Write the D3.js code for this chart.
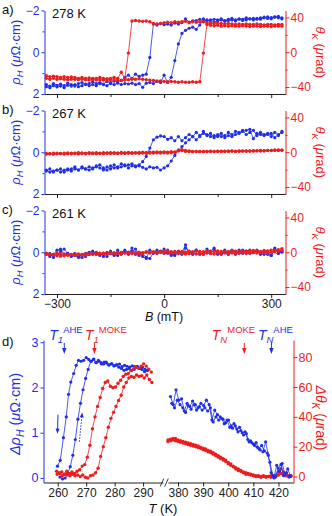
<!DOCTYPE html>
<html lang="en">
<head>
<meta charset="UTF-8">
<title>AHE and MOKE hysteresis</title>
<script src="https://d3js.org/d3.v7.min.js"></script>
<style>
  body { margin: 0; background: #fff; }
  svg { display: block; font-family: "Liberation Sans", Arial, sans-serif; }
</style>
</head>
<body>
<div id="chart"></div>
<script>
// ---------- data: field sweeps (panels a-c), B in mT ----------
const fieldB = [
  -330, -320, -310, -300, -290, -280, -270, -260, -250, -240,
  -230, -220, -210, -200, -190, -180, -170, -160, -150, -140,
  -130, -120, -110, -100, -90, -80, -70, -60, -50, -40,
  -30, -20, -10, 0, 10, 20, 30, 40, 50, 60,
  70, 80, 90, 100, 110, 120, 130, 140, 150, 160,
  170, 180, 190, 200, 210, 220, 230, 240, 250, 260,
  270, 280, 290, 300, 310, 320, 330
];

// a) 278 K : rho_H (uOhm cm) and theta_K (urad)
const aBlueDown = [
  1.55, 1.62, 1.5, 1.58, 1.52, 1.6, 1.48, 1.55, 1.62, 1.5,
  1.45, 1.55, 1.5, 1.42, 1.5, 1.45, 1.52, 1.4, 1.45, 1.38,
  1.42, 1.35, 1.2, 1.1, 1.25, 1.05, 1.15, 1.1, 1.05, 0.25,
  -1.35, -1.3, -1.38, -1.32, -1.35, -1.3, -1.4, -1.35, -1.42, -1.6,
  -1.45, -1.5, -1.52, -1.58, -1.5, -1.55, -1.52, -1.58, -1.55, -1.6,
  -1.52, -1.58, -1.62, -1.55, -1.6, -1.58, -1.65, -1.6, -1.62, -1.58,
  -1.65, -1.68, -1.62, -1.66, -1.7, -1.65, -1.6
];
const aBlueUp = [
  1.65, 1.7, 1.6, 1.66, 1.62, 1.7, 1.58, 1.62, 1.55, 1.65,
  1.6, 1.52, 1.6, 1.55, 1.6, 1.5, 1.55, 1.6, 1.5, 1.55,
  1.48, 1.55, 1.5, 1.52, 1.48, 1.55, 1.5, 1.68, 1.48, 1.45,
  1.5, 1.4, 1.45, 1.1, 1.45, 1.2, 0.4, -0.4, -0.9, -1.05,
  -1.15, -1.2, -1.1, -1.3, -1.6, -1.5, -1.55, -1.45, -1.5, -1.55,
  -1.48, -1.52, -1.55, -1.5, -1.58, -1.52, -1.55, -1.6, -1.55, -1.62,
  -1.58, -1.65, -1.7, -1.6, -1.68, -1.72, -1.65
];
const aRedDown = [
  -27, -28, -27.5, -28, -29, -28, -29, -28.5, -29, -30,
  -29, -30, -29.5, -30, -30, -29, -30, -30.5, -30, -29,
  -30, -23, -30, -1, 36, 36.5, 36, 35.5, 36, 35,
  33, 32.5, 33, 34, 34.5, 34, 35, 34.5, 35, 35.5,
  34, 35, 34.5, 35, 35, 34, 33.5, 33, 33.5, 33,
  32.5, 33, 32.5, 32, 32.5, 32, 32.5, 32, 32, 32.5,
  32, 31.5, 32, 32, 31.5, 32, 32
];
const aRedUp = [
  -30, -31, -30, -31, -30.5, -31, -31.5, -31, -31, -31.5,
  -31, -31.5, -32, -31.5, -32, -31.5, -32, -32, -31.5, -32,
  -32, -32.5, -32, -31.5, -31, -31, -30.5, -31, -31.5, -32,
  -32.5, -33, -33, -33.5, -34, -33.5, -34, -34.5, -34, -34.5,
  -34.5, -34, -34.5, -34, -1, 32, 31, 30.5, 31, 30,
  30.5, 30, 30.5, 30, 30, 30.5, 30, 29.5, 30, 30,
  29.5, 30, 30, 29.5, 30, 30, 30
];

// b) 267 K
const bBlueDown = [
  0.85, 0.95, 0.9, 0.85, 0.95, 0.85, 0.8, 0.9, 0.8, 0.85,
  0.7, 0.8, 0.85, 0.75, 0.7, 0.6, 0.75, 0.85, 0.65, 0.75,
  0.7, 0.55, 0.65, 0.6, 0.55, 0.65, 0.6, 0.45, 0.2, -0.2,
  -0.6, -0.72, -0.78, -0.75, -0.62, -0.7, -0.55, -0.75, -0.55, -0.7,
  -0.85, -0.75, -0.95, -0.8, -0.9, -0.85, -0.75, -0.8, -0.75, -0.9,
  -0.7, -0.8, -0.75, -0.85, -0.9, -1.0, -1.05, -1.1, -0.65, -0.9,
  -0.85, -0.8, -0.85, -0.9, -0.7, -0.85, -0.95
];
const bBlueUp = [
  0.9, 0.8, 0.95, 0.85, 0.8, 0.95, 0.85, 0.8, 0.7, 0.85,
  0.75, 0.8, 0.7, 0.8, 0.65, 0.75, 0.85, 0.7, 0.8, 0.6,
  0.75, 0.7, 0.6, 0.75, 0.65, 0.7, 0.65, 0.72, 0.8, 0.7,
  0.75, 0.72, 0.85, 0.75, 0.65, 0.42, 0.15, -0.1, -0.27, -0.45,
  -0.6, -0.75, -0.6, -0.75, -1.0, -0.8, -0.9, -0.7, -0.85, -0.75,
  -0.8, -0.95, -0.85, -1.0, -0.95, -1.05, -0.85, -0.95, -1.05, -0.8,
  -0.95, -0.85, -0.9, -0.75, -0.95, -0.8, -1.0
];
const bRedDown = [
  -1.5, -1.8, -1.2, -1.0, -1.5, -1.2, -0.8, -1.0, -1.2, -0.6,
  -0.8, -1.0, -0.5, -0.8, -0.6, -1.0, -0.5, -0.8, -0.4, -0.6,
  -0.8, -0.3, -0.6, -0.2, -0.4, -0.5, -0.2, 0.0, -0.3, 0.2,
  0.0, 0.3, 0.1, 0.4, 0.2, 0.5, 0.4, 2.5, 2.0, 1.0,
  0.8, 0.6, 0.9, 0.7, 1.0, 0.8, 1.0, 0.9, 1.2, 1.0,
  1.3, 1.1, 1.4, 1.2, 1.5, 1.3, 1.6, 1.5, 1.8, 1.6,
  2.0, 1.8, 2.2, 2.0, 2.3, 2.1, 2.3
];
const bRedUp = [
  -2.0, -1.6, -2.2, -1.8, -1.5, -2.0, -1.6, -1.8, -1.4, -1.9,
  -1.5, -1.7, -1.3, -1.6, -1.8, -1.4, -1.6, -1.2, -1.5, -1.3,
  -1.6, -1.2, -1.4, -1.1, -1.3, -1.0, -1.2, -0.9, -1.1, -0.8,
  -1.0, -0.7, -0.9, -0.6, -0.8, -0.5, -0.2, 1.5, 2.8, 2.2,
  1.5, 1.0, 0.8, 1.0, 0.7, 0.9, 1.1, 0.8, 1.0, 1.2,
  0.9, 1.1, 1.3, 1.0, 1.2, 1.4, 1.1, 1.3, 1.5, 1.7,
  1.5, 1.8, 1.9, 2.1, 2.4, 2.6, 2.5
];

// c) 261 K
const cBlueDown = [
  0.1, 0.05, 0.25, 0.12, -0.05, -0.15, 0.05, 0.15, 0.05, 0.2,
  0.25, 0.2, 0.1, 0.05, 0.0, 0.05, 0.2, 0.0, 0.05, 0.15,
  -0.1, 0.1, -0.05, 0.1, -0.05, -0.15, 0.05, 0.2, 0.3, -0.1,
  0.0, 0.05, -0.05, 0.05, -0.1, 0.05, 0.15, 0.0, 0.1, -0.2,
  -0.05, 0.05, -0.1, 0.1, 0.0, -0.05, 0.05, -0.15, 0.05, 0.1,
  0.0, 0.05, -0.05, 0.1, -0.1, 0.05, -0.05, 0.05, 0.0, -0.05,
  0.1, -0.05, 0.1, 0.15, -0.15, 0.05, 0.0
];
const cBlueUp = [
  0.05, 0.2, 0.1, -0.1, -0.15, 0.1, 0.05, 0.2, 0.15, 0.25,
  0.1, 0.05, 0.0, -0.05, 0.1, 0.15, 0.05, 0.2, -0.05, 0.1,
  0.15, 0.0, -0.1, 0.05, -0.2, 0.1, 0.15, 0.05, 0.25, 0.3,
  0.05, -0.1, 0.0, -0.15, 0.05, 0.15, 0.1, -0.05, 0.0, -0.35,
  0.05, 0.1, -0.1, 0.05, 0.1, -0.15, -0.05, -0.2, 0.1, 0.0,
  -0.1, 0.1, -0.1, -0.05, 0.05, -0.1, -0.05, -0.1, 0.0, -0.1,
  0.05, 0.1, -0.05, 0.15, -0.2, 0.05, -0.05
];
const cRedDown = [
  -2.5, -3, -2.5, -4, -1.5, -4, -3, -2.5, -2, -3,
  -2.5, -2, -2.5, -1.5, -2, -1, -1.5, -1, -1.5, -0.5,
  -1, -0.5, -1, 0, -1.5, -0.5, 0, -0.5, 0.5, 0,
  0.5, 0, 1, 0.5, 1, 0.5, 1, 0.5, 1, 0,
  1, 0.5, 1.5, 1, 0.5, 1.5, 1, 0.5, 1.5, 1,
  0.5, 1, 1.5, 1, 0.5, 1.5, 1, 1.5, 2, 1.5,
  1, 2, 1.5, 2.5, 2, 3, 4
];
const cRedUp = [
  -1.5, -2, -3, -1, -4.5, -2, -3.5, -3, -3.5, -2,
  -3, -3.5, -2, -2.5, -1.5, -2, -1, -2, -0.5, -1.5,
  -1, -1.5, -0.5, -1, -0.5, -1, -2, -1, 0, -1,
  -0.5, -1, 0, -0.5, 0, -1, -0.5, -1.5, -1, -2,
  -1.5, -1, -2, -1.5, -2, -1, -1.5, -2, -1, -1.5,
  -1, -2, -1, -1.5, -1, -0.5, -1.5, -1, -0.5, -1,
  -0.5, 0, -0.5, 0, 0.5, 1, 2
];

const panelTemps = ["278 K", "267 K", "261 K"];
const panelLetters = ["a)", "b)", "c)", "d)"];

// ---------- data: temperature sweeps (panel d) ----------
const dBlueCoolT = [259.9, 260.9, 262.0, 263.0, 263.8, 264.6, 265.6, 266.5, 267.3, 268.2,
  269.1, 270.0, 270.9, 271.8, 272.7, 273.6, 274.5, 275.4, 276.3, 277.2,
  278.1, 279.0, 279.9, 280.8, 281.7, 282.6, 283.5, 284.4, 285.3, 286.2,
  287.1, 288.0, 288.9, 289.8, 290.7, 291.6];
const dBlueCoolV = [0.26, 0.39, 0.89, 1.35, 1.85, 2.12, 2.31, 2.49, 2.6, 2.58,
  2.6, 2.66, 2.62, 2.58, 2.63, 2.55, 2.58, 2.52, 2.56, 2.54,
  2.5, 2.53, 2.48, 2.5, 2.52, 2.46, 2.49, 2.47, 2.45, 2.48,
  2.46, 2.47, 2.43, 2.45, 2.4, 2.38];
const dBlueWarmT = [260.8, 261.7, 262.6, 263.5, 264.4, 265.3, 266.2, 267.1, 268.0, 268.9,
  269.8, 270.7, 271.6, 272.5, 273.4, 274.3, 275.2, 276.1, 277.0, 277.9,
  278.8, 279.7, 280.6, 281.5, 282.4, 283.3, 284.2, 285.1, 286.0, 286.9,
  287.8, 288.7, 289.6, 290.5, 291.4];
const dBlueWarmV = [0.02, -0.02, 0.0, 0.1, 0.25, 0.5, 0.85, 1.3, 1.65, 1.95,
  2.2, 2.4, 2.58, 2.62, 2.55, 2.6, 2.55, 2.52, 2.56, 2.5,
  2.52, 2.48, 2.5, 2.45, 2.42, 2.38, 2.4, 2.42, 2.38, 2.4,
  2.45, 2.42, 2.4, 2.35, 2.38];
const dRedCoolT = [259.6, 260.5, 261.4, 262.3, 263.2, 264.1, 265.0, 265.9, 266.8, 267.7,
  268.6, 269.5, 270.4, 271.3, 272.2, 273.1, 274.0, 274.9, 275.8, 276.7,
  277.6, 278.5, 279.4, 280.3, 281.2, 282.1, 283.0, 283.9, 284.8, 285.7,
  286.6, 287.5, 288.4, 289.3, 290.2, 291.1, 292.0, 292.9];
const dRedCoolV = [3.5, 2.5, 3, 1.5, 3.5, 2, 3, 2, 3.5, 4.5,
  7, 8, 13, 21, 32, 40, 47, 53, 59, 63,
  64, 60.5, 59.5, 60, 62.5, 64.5, 67, 68.5, 69, 71,
  72, 73.5, 72.5, 74, 75.5, 74, 72, 70];
const dRedWarmT = [259.8, 260.7, 261.6, 262.5, 263.4, 264.3, 265.2, 266.1, 267.0, 267.9,
  268.8, 269.7, 270.6, 271.5, 272.4, 273.3, 274.2, 275.1, 276.0, 276.9,
  277.8, 278.7, 279.6, 280.5, 281.4, 282.3, 283.2, 284.1, 285.0, 285.9,
  286.8, 287.7, 288.6, 289.5, 290.4, 291.3, 292.2, 293.1];
const dRedWarmV = [1.5, 2, 0.5, 1.5, 1, 0.5, 1.5, 0.5, 1, 0,
  1, -0.5, -1, 0.5, 1, 2.5, 5.5, 13.5, 20, 26,
  33, 39, 43, 47, 51, 54.5, 60, 63, 66, 67,
  66.5, 68, 67, 67.5, 66, 68, 65, 63];

// high-temperature side
const dRedHotT = [376, 377, 378, 379, 380, 381, 382, 383, 384, 385,
  386, 387, 388, 389, 390, 391, 392, 393, 394, 395,
  396, 397, 398, 399, 400, 401, 402, 403, 404, 405,
  406, 407, 408, 409, 410, 411, 412, 413, 414, 415,
  416, 417, 418, 419, 420, 421, 422, 423, 424, 425];
const dRedHotA = [24.5, 25, 25.5, 25.5, 24.5, 24, 23.5, 23, 22.5, 22,
  21.5, 21, 20.5, 19.5, 19, 18.5, 17.5, 17, 16, 15,
  14, 13, 12, 11, 9.5, 8.5, 7, 6, 5, 4,
  3, 2.5, 2, 1.5, 1, 0.5, 0.5, 0, 0.5, 0,
  0, 0.5, 0, 1, 3, 2, 1, 0.5, 0, 0.5];
const dRedHotB = [23.5, 24, 24.5, 24, 23.5, 23, 22.5, 22, 21.5, 21,
  20.5, 20, 19.5, 19, 18, 17.5, 16.5, 16, 15, 14,
  13, 12, 11, 10, 8.5, 7.5, 6.5, 5, 4, 3.5,
  2.5, 1.5, 1.5, 1, 0.5, 0, 0, -0.5, 0, -0.5,
  0, -0.5, 0.5, 0, 1, 5, 3, 1.5, 0.5, 0];
const dBlueHotAT = [377.0, 378.1, 379.2, 380.3, 381.4, 382.5, 383.6, 384.7, 385.8, 386.9,
  388.0, 389.1, 390.2, 391.3, 392.4, 393.5, 394.6, 395.7, 396.8, 397.9,
  399.0, 400.1, 401.2, 402.3, 403.4, 404.5, 405.6, 406.7, 407.8, 408.9,
  410.0, 411.1, 412.2, 413.3, 414.4, 415.5, 416.6, 417.7, 418.8, 419.9,
  421.0, 422.1, 423.2, 424.3];
const dBlueHotAV = [1.8, 1.62, 1.95, 1.72, 1.75, 1.48, 1.65, 1.58, 1.7, 1.62,
  1.55, 1.65, 1.6, 1.72, 1.62, 1.28, 1.5, 1.4, 1.35, 1.3,
  1.22, 1.28, 1.15, 1.2, 1.08, 1.12, 1.0, 1.02, 0.85, 0.82,
  0.75, 0.78, 0.65, 0.72, 0.6, 0.55, 0.35, 0.05, 0.02, 0.22,
  0.3, 0.05, 0.12, 0.02];
const dBlueHotBT = [377.5, 378.6, 379.7, 380.8, 381.9, 383.0, 384.1, 385.2, 386.3, 387.4,
  388.5, 389.6, 390.7, 391.8, 392.9, 394.0, 395.1, 396.2, 397.3, 398.4,
  399.5, 400.6, 401.7, 402.8, 403.9, 405.0, 406.1, 407.2, 408.3, 409.4,
  410.5, 411.6, 412.7, 413.8, 414.9, 416.0, 417.1, 418.2, 419.3, 420.4,
  421.5, 422.6, 423.7, 424.8];
const dBlueHotBV = [1.65, 1.55, 1.72, 1.62, 1.55, 1.45, 1.6, 1.52, 1.62, 1.5,
  1.58, 1.5, 1.55, 1.48, 1.55, 1.24, 1.35, 1.28, 1.32, 1.2,
  1.28, 1.12, 1.1, 1.15, 1.02, 1.05, 0.95, 0.98, 0.8, 0.78,
  0.72, 0.68, 0.62, 0.58, 0.8, 0.5, 0.12, 0.0, 0.28, 0.15,
  0.32, 0.08, 0.2, 0.05];

// transition temperatures marked by arrows
const transT = [262.3, 272.9, 406.4, 417.2];
const transSub = ["1", "1", "N", "N"];
const transSup = ["AHE", "MOKE", "MOKE", "AHE"];
const transIsAHE = [true, false, false, true];

// ---------- drawing ----------
const blue = "#1f2fe8", red = "#ee1c1c";
const fontFam = "'Liberation Sans', Arial, sans-serif";
const intFmt = d3.format("d");

const svg = d3.select("#chart").append("svg")
  .attr("width", 332).attr("height", 516);

function styleAxis(sel, color, size) {
  sel.attr("color", color).attr("font-size", size).attr("font-family", fontFam);
  sel.selectAll("path, line").attr("stroke-width", 1);
}

function drawSeries(g, x, y, xs, vs, color, r) {
  const pts = xs.map((v, i) => [v, vs[i]]);
  g.append("path").datum(pts)
    .attr("fill", "none").attr("stroke", color).attr("stroke-width", 0.8)
    .attr("d", d3.line().x(d => x(d[0])).y(d => y(d[1])));
  g.append("g").selectAll("circle").data(pts).join("circle")
    .attr("cx", d => x(d[0])).attr("cy", d => y(d[1]))
    .attr("r", r).attr("fill", color);
}

function rhoTitle(g, x, y, size, delta) {
  const t = g.append("text")
    .attr("transform", `translate(${x},${y}) rotate(-90)`)
    .attr("text-anchor", "middle").attr("fill", blue).attr("font-size", size);
  if (delta) t.append("tspan").attr("font-style", "italic").text("Δ");
  t.append("tspan").attr("font-style", "italic").text("ρ");
  t.append("tspan").attr("font-style", "italic").attr("font-size", size * 0.72)
    .attr("dy", size * 0.28).text("H");
  t.append("tspan").attr("dy", -size * 0.28).text(" (");
  t.append("tspan").attr("font-style", "italic").text("μ");
  t.append("tspan").text("Ω·cm)");
}

function thetaTitle(g, x, y, size, delta) {
  const t = g.append("text")
    .attr("transform", `translate(${x},${y}) rotate(90)`)
    .attr("text-anchor", "middle").attr("fill", red).attr("font-size", size);
  if (delta) t.append("tspan").attr("font-style", "italic").text("Δ");
  t.append("tspan").attr("font-style", "italic").text("θ");
  t.append("tspan").attr("font-style", "italic").attr("font-size", size * 0.72)
    .attr("dy", size * 0.28).text("K");
  t.append("tspan").attr("dy", -size * 0.28).text(" (");
  t.append("tspan").attr("font-style", "italic").text("μ");
  t.append("tspan").text("rad)");
}

// panels a-c: field loops
const xB = d3.scaleLinear().domain([-335, 340]).range([44.5, 285.5]);
const panelTops = [10.5, 110.5, 210.5];
const panelH = 83.5;
const loops = [
  [aBlueDown, aBlueUp, aRedDown, aRedUp],
  [bBlueDown, bBlueUp, bRedDown, bRedUp],
  [cBlueDown, cBlueUp, cRedDown, cRedUp]
];

loops.forEach((p, k) => {
  const top = panelTops[k], bottom = top + panelH;
  const yL = d3.scaleLinear().domain([-2, 2]).range([top, bottom]);
  const yR = d3.scaleLinear().domain([-48, 48]).range([bottom, top]);
  const g = svg.append("g");

  const last = k === loops.length - 1;
  g.append("g").attr("transform", `translate(0,${bottom})`)
    .call(d3.axisBottom(xB).tickValues([-300, 0, 300]).tickSize(4).tickSizeOuter(0)
      .tickPadding(1).tickFormat(last ? intFmt : () => ""))
    .call(s => styleAxis(s, "#222", 12));
  g.append("g").attr("transform", `translate(0,${bottom})`)
    .call(d3.axisBottom(xB).tickValues([-150, 150]).tickSize(3).tickFormat(() => ""))
    .call(s => s.select(".domain").remove())
    .call(s => styleAxis(s, "#222", 12));

  g.append("g").attr("transform", `translate(${xB.range()[0]},0)`)
    .call(d3.axisLeft(yL).tickValues([-2, 0, 2]).tickSize(3).tickSizeOuter(0)
      .tickPadding(2).tickFormat(intFmt))
    .call(s => styleAxis(s, blue, 12));
  g.append("g").attr("transform", `translate(${xB.range()[0]},0)`)
    .call(d3.axisLeft(yL).tickValues([-1, 1]).tickSize(2).tickFormat(() => ""))
    .call(s => s.select(".domain").remove())
    .call(s => styleAxis(s, blue, 12));

  g.append("g").attr("transform", `translate(${xB.range()[1]},0)`)
    .call(d3.axisRight(yR).tickValues([-40, 0, 40]).tickSize(4).tickSizeOuter(0)
      .tickPadding(1).tickFormat(intFmt))
    .call(s => styleAxis(s, red, 12));
  g.append("g").attr("transform", `translate(${xB.range()[1]},0)`)
    .call(d3.axisRight(yR).tickValues([-20, 20]).tickSize(2).tickFormat(() => ""))
    .call(s => s.select(".domain").remove())
    .call(s => styleAxis(s, red, 12));

  drawSeries(g, xB, yL, fieldB, p[0], blue, 1.6);
  drawSeries(g, xB, yL, fieldB, p[1], blue, 1.6);
  drawSeries(g, xB, yR, fieldB, p[2], red, 1.7);
  drawSeries(g, xB, yR, fieldB, p[3], red, 1.7);

  g.append("text").attr("x", 2).attr("y", top + 3).attr("font-size", 13)
    .attr("fill", "#111").text(panelLetters[k]);
  g.append("text").attr("x", 52).attr("y", top + 7.5).attr("font-size", 13)
    .attr("fill", "#111").text(panelTemps[k]);

  rhoTitle(g, 19.5, top + panelH / 2, 13, false);
  thetaTitle(g, 315.5, top + panelH / 2, 13, false);
});

// x label for the field loops
{
  const t = svg.append("text").attr("x", 164).attr("y", 321)
    .attr("text-anchor", "middle").attr("font-size", 12.5).attr("fill", "#111");
  t.append("tspan").attr("font-style", "italic").text("B");
  t.append("tspan").text(" (mT)");
}

// panel d: temperature sweeps with broken T axis
const dTop = 340, dBottom = 482.5;
const xLow = d3.scaleLinear().domain([255, 297]).range([43.5, 163]);
const xHigh = d3.scaleLinear().domain([376, 426]).range([168, 293.5]);
const xT = t => (t < 340 ? xLow(t) : xHigh(t));
const yRho = d3.scaleLinear().domain([-0.1, 3.05]).range([dBottom, dTop]);
const yTh = d3.scaleLinear().domain([-4, 91.5]).range([dBottom, dTop]);

const gd = svg.append("g");

gd.append("g").attr("transform", `translate(0,${dBottom})`)
  .call(d3.axisBottom(xLow).tickValues([260, 270, 280, 290]).tickSize(4).tickSizeOuter(0)
    .tickPadding(2).tickFormat(intFmt))
  .call(s => styleAxis(s, "#222", 12));
gd.append("g").attr("transform", `translate(0,${dBottom})`)
  .call(d3.axisBottom(xHigh).tickValues([380, 390, 400, 410, 420]).tickSize(4).tickSizeOuter(0)
    .tickPadding(2).tickFormat(intFmt))
  .call(s => styleAxis(s, "#222", 12));
// axis break marks
[162, 166.5].forEach(bx => {
  gd.append("line").attr("x1", bx - 1.8).attr("y1", dBottom + 4)
    .attr("x2", bx + 1.8).attr("y2", dBottom - 4)
    .attr("stroke", "#222").attr("stroke-width", 0.9);
});

gd.append("g").attr("transform", `translate(${xLow.range()[0]},0)`)
  .call(d3.axisLeft(yRho).tickValues([0, 1, 2, 3]).tickSize(3).tickSizeOuter(0)
    .tickPadding(2).tickFormat(intFmt))
  .call(s => styleAxis(s, blue, 12.5));
gd.append("g").attr("transform", `translate(${xHigh.range()[1]},0)`)
  .call(d3.axisRight(yTh).tickValues([0, 20, 40, 60, 80]).tickSize(4).tickSizeOuter(0)
    .tickPadding(1).tickFormat(intFmt))
  .call(s => styleAxis(s, red, 12.5));

drawSeries(gd, xT, yRho, dBlueCoolT, dBlueCoolV, blue, 1.6);
drawSeries(gd, xT, yRho, dBlueWarmT, dBlueWarmV, blue, 1.6);
drawSeries(gd, xT, yTh, dRedCoolT, dRedCoolV, red, 1.7);
drawSeries(gd, xT, yTh, dRedWarmT, dRedWarmV, red, 1.7);
drawSeries(gd, xT, yTh, dRedHotT, dRedHotA, red, 1.7);
drawSeries(gd, xT, yTh, dRedHotT, dRedHotB, red, 1.7);
drawSeries(gd, xT, yRho, dBlueHotAT, dBlueHotAV, blue, 1.6);
drawSeries(gd, xT, yRho, dBlueHotBT, dBlueHotBV, blue, 1.6);

// sweep direction arrows (cooling solid, warming dotted)
function sweepArrow(t0, v0, t1, v1, dashed) {
  const x0 = xT(t0), y0 = yRho(v0), x1 = xT(t1), y1 = yRho(v1);
  const a = Math.atan2(y1 - y0, x1 - x0);
  gd.append("line").attr("x1", x0).attr("y1", y0)
    .attr("x2", x1 - 4 * Math.cos(a)).attr("y2", y1 - 4 * Math.sin(a))
    .attr("stroke", blue).attr("stroke-width", 1)
    .attr("stroke-dasharray", dashed ? "1.5,1.5" : null);
  const hx = x1 - 5 * Math.cos(a), hy = y1 - 5 * Math.sin(a);
  const px = 2 * Math.sin(a), py = -2 * Math.cos(a);
  gd.append("path")
    .attr("d", `M${x1},${y1}L${hx + px},${hy + py}L${hx - px},${hy - py}Z`)
    .attr("fill", blue);
}
sweepArrow(260.1, 1.4, 259.9, 0.98, false);
sweepArrow(267.6, 0.8, 268.6, 1.45, true);

// transition markers
const labelShift = [-15, -9.5, -32.5, -13.5];
transT.forEach((t, i) => {
  const col = transIsAHE[i] ? blue : red;
  const x = xT(t);
  gd.append("line").attr("x1", x).attr("x2", x).attr("y1", 343).attr("y2", 349)
    .attr("stroke", col).attr("stroke-width", 1);
  gd.append("path").attr("d", `M${x - 2.2},348L${x + 2.2},348L${x},354Z`).attr("fill", col);
  const tx = gd.append("text").attr("x", x + labelShift[i]).attr("y", 340)
    .attr("font-size", 14).attr("fill", col);
  tx.append("tspan").attr("font-style", "italic").text("T");
  tx.append("tspan").attr("font-style", "italic").attr("font-size", 9.5).attr("dy", 3).text(transSub[i]);
  tx.append("tspan").attr("font-size", 9.5).attr("dy", -10).text(transSup[i]);
});

gd.append("text").attr("x", 2).attr("y", 346).attr("font-size", 13)
  .attr("fill", "#111").text(panelLetters[3]);

rhoTitle(gd, 19.5, 414, 14.5, true);
thetaTitle(gd, 316, 418, 14, true);

{
  const t = svg.append("text").attr("x", 163).attr("y", 513)
    .attr("text-anchor", "middle").attr("font-size", 13).attr("fill", "#111");
  t.append("tspan").attr("font-style", "italic").text("T");
  t.append("tspan").text(" (K)");
}
</script>
</body>
</html>
